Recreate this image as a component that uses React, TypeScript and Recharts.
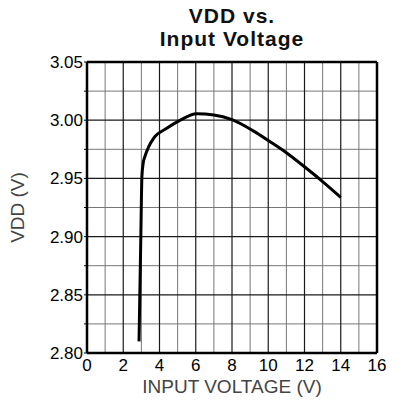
import {
  CartesianGrid,
  Label,
  Line,
  LineChart,
  ReferenceLine,
  XAxis,
  YAxis,
} from "recharts";

const inputVoltage = [2.87, 2.97, 3.03, 3.1, 3.2, 3.4, 3.7, 4.4, 5.1, 6.05, 7.0, 8.0, 9.2, 10.1, 11.0, 12.1, 12.9, 14.0];
const vdd = [2.81, 2.9, 2.952, 2.963, 2.969, 2.977, 2.985, 2.993, 2.9996, 3.0055, 3.0045, 3.0005, 2.9906, 2.9815, 2.972, 2.9587, 2.9486, 2.9338];

const xMajor = [0, 2, 4, 6, 8, 10, 12, 14, 16];
const xMinor = [1, 3, 5, 7, 9, 11, 13, 15];
const yMajor = [2.8, 2.85, 2.9, 2.95, 3.0, 3.05];
const yMinor = [2.825, 2.875, 2.925, 2.975, 3.025];

const font = "'Liberation Sans', Arial, sans-serif";

const data = inputVoltage.map((x, i) => ({ x, vdd: vdd[i] }));
const yTicks = [...yMajor, ...yMinor].sort((a, b) => a - b);

function fmtY(v: number): string {
  return Math.round(v * 1000) % 50 === 0 ? v.toFixed(2) : "";
}

export default function App() {
  return (
    <div style={{ position: "absolute", left: 0, top: 0, width: 402, height: 402, background: "#fff", fontFamily: font }}>
      <div
        style={{
          position: "absolute",
          left: 87,
          width: 290,
          top: 4,
          textAlign: "center",
          fontWeight: "bold",
          fontSize: 21,
          lineHeight: "23px",
          letterSpacing: 1,
          color: "#111",
        }}
      >
        VDD vs.
        <br />
        Input Voltage
      </div>
      <LineChart width={402} height={402} data={data} margin={{ top: 62, right: 25, bottom: 19, left: 0 }}>
        <CartesianGrid stroke="#777" strokeWidth={1} horizontalValues={yMinor} verticalValues={xMinor} />
        <CartesianGrid stroke="#1a1a1a" strokeWidth={1.2} horizontalValues={yMajor} verticalValues={xMajor} />
        <XAxis
          type="number"
          dataKey="x"
          domain={[0, 16]}
          ticks={xMajor}
          interval={0}
          height={30}
          tickLine={false}
          tickSize={6}
          tickMargin={0}
          axisLine={{ stroke: "#000", strokeWidth: 2.5 }}
          tick={{ fill: "#000", fontSize: 17, fontFamily: font }}
        >
          <Label value="INPUT VOLTAGE (V)" position="bottom" offset={-3} style={{ fill: "#444", fontSize: 19, fontFamily: font }} />
        </XAxis>
        <YAxis
          type="number"
          domain={[2.8, 3.05]}
          ticks={yTicks}
          interval={0}
          width={87}
          tickSize={3}
          tickMargin={1}
          tickFormatter={fmtY}
          tickLine={{ stroke: "#000" }}
          axisLine={{ stroke: "#000", strokeWidth: 2.5 }}
          tick={{ fill: "#000", fontSize: 17, fontFamily: font }}
        >
          <Label
            value="VDD (V)"
            angle={-90}
            position="insideLeft"
            offset={17}
            style={{ fill: "#444", fontSize: 19, fontFamily: font, textAnchor: "middle" }}
          />
        </YAxis>
        <ReferenceLine y={3.05} stroke="#000" strokeWidth={2.5} />
        <ReferenceLine x={16} stroke="#000" strokeWidth={2.5} />
        <Line
          type="monotone"
          dataKey="vdd"
          stroke="#000"
          strokeWidth={3}
          dot={false}
          isAnimationActive={false}
        />
      </LineChart>
    </div>
  );
}
